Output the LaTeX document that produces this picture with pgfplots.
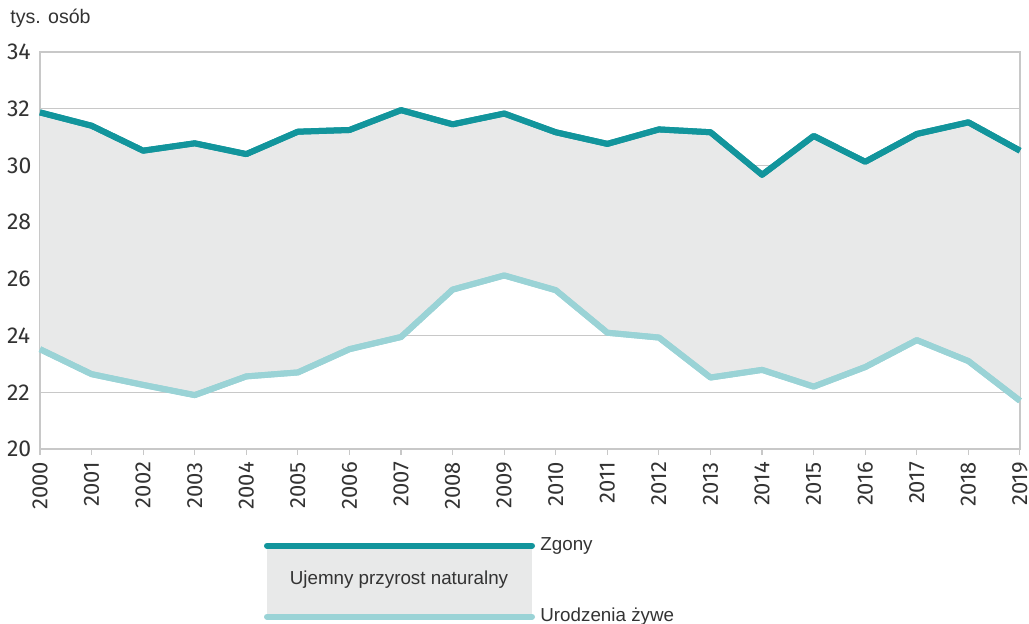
\documentclass[border=0pt]{standalone}
\usepackage{pgfplots}
\pgfplotsset{compat=1.18}
\usepgfplotslibrary{fillbetween}
\usepackage{fontspec}
\setmainfont{Liberation Sans}
\newfontfamily\tickfont{Fira Sans}
\definecolor{dark}{HTML}{12959C}
\definecolor{light}{HTML}{9AD3D6}
\definecolor{fillg}{HTML}{E8E9E9}
\definecolor{gridg}{HTML}{C8C8C8}
\definecolor{txt}{HTML}{333333}
\begin{document}
\begin{tikzpicture}[x=1pt,y=1pt]
\begin{axis}[
  at={(20pt,87pt)}, anchor=south west,
  scale only axis, width=490pt, height=198.5pt,
  xmin=2000, xmax=2019, ymin=20, ymax=34,
  xtick={2000,...,2019}, ytick={20,22,...,34},
  xtick pos=bottom, ytick pos=left,
  xticklabel style={rotate=90, anchor=east, font=\tickfont\fontsize{11}{11}\selectfont, text=txt},
  yticklabel style={font=\tickfont\fontsize{11.5}{11.5}\selectfont, text=txt, anchor=west, xshift=-17pt},
  /pgf/number format/assume math mode=true,
  /pgf/number format/set thousands separator={},
  axis line style={gridg, line width=0.8pt},
  ymajorgrids, major grid style={gridg, line width=0.6pt},
  xtick style={gridg, line width=0.6pt}, ytick style={draw=none},
  tick align=outside, major tick length=3pt,
  clip=false,
]
\addplot[name path=Z, dark, line width=3pt, line join=round] coordinates {
(2000,31.87) (2001,31.40) (2002,30.52) (2003,30.78) (2004,30.40) (2005,31.19) (2006,31.25)
(2007,31.95) (2008,31.45) (2009,31.83) (2010,31.17) (2011,30.76) (2012,31.27) (2013,31.17)
(2014,29.67) (2015,31.04) (2016,30.13) (2017,31.11) (2018,31.52) (2019,30.52)};
\addplot[name path=U, light, line width=3pt, line join=round] coordinates {
(2000,23.52) (2001,22.64) (2002,22.26) (2003,21.90) (2004,22.56) (2005,22.70) (2006,23.52)
(2007,23.95) (2008,25.62) (2009,26.12) (2010,25.60) (2011,24.10) (2012,23.93) (2013,22.52)
(2014,22.79) (2015,22.20) (2016,22.89) (2017,23.84) (2018,23.10) (2019,21.70)};
\addplot[fillg] fill between[of=Z and U];
\addplot[dark, line width=3pt, line join=round] coordinates {
(2000,31.87) (2001,31.40) (2002,30.52) (2003,30.78) (2004,30.40) (2005,31.19) (2006,31.25)
(2007,31.95) (2008,31.45) (2009,31.83) (2010,31.17) (2011,30.76) (2012,31.27) (2013,31.17)
(2014,29.67) (2015,31.04) (2016,30.13) (2017,31.11) (2018,31.52) (2019,30.52)};
\addplot[light, line width=3pt, line join=round] coordinates {
(2000,23.52) (2001,22.64) (2002,22.26) (2003,21.90) (2004,22.56) (2005,22.70) (2006,23.52)
(2007,23.95) (2008,25.62) (2009,26.12) (2010,25.60) (2011,24.10) (2012,23.93) (2013,22.52)
(2014,22.79) (2015,22.20) (2016,22.89) (2017,23.84) (2018,23.10) (2019,21.70)};
\end{axis}
\node[anchor=west, font=\fontsize{9.8}{9.8}\selectfont, text=txt, inner sep=0pt] at (5,302.5) {tys. osób};
% legend
\fill[fillg] (133.5,3.15) rectangle (266,38.65);
\draw[dark, line width=3pt, line cap=round] (133.5,38.65) -- (266,38.65);
\draw[light, line width=3pt, line cap=round] (133.5,3.15) -- (266,3.15);
\node[font=\fontsize{9.4}{9.4}\selectfont, text=txt] at (199.5,21.5) {Ujemny przyrost naturalny};
\node[anchor=west, font=\fontsize{9.4}{9.4}\selectfont, text=txt, inner sep=0pt] at (270,38.65) {Zgony};
\node[anchor=west, font=\fontsize{9.4}{9.4}\selectfont, text=txt, inner sep=0pt] at (270,3.15) {Urodzenia żywe};
\pgfresetboundingbox
\useasboundingbox (0,0) rectangle (514.5,311.5);
\end{tikzpicture}
\end{document}
